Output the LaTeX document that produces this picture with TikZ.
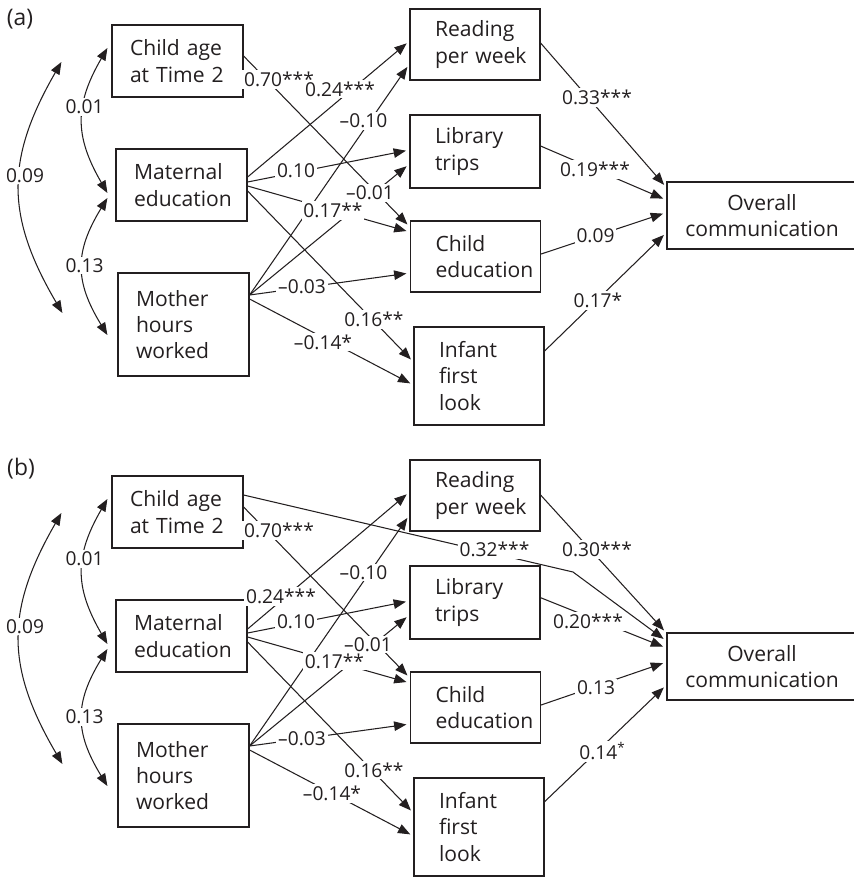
\documentclass[tikz,border=0pt]{standalone}
\usepackage{fontspec}
\setmainfont{Open Sans}
\usetikzlibrary{arrows.meta,calc,positioning}
\definecolor{ink}{RGB}{35,31,32}

\tikzset{
  var/.style={draw=ink,line width=0.7pt,text=ink,align=left,
    inner xsep=0.36cm,text width=1.9cm,minimum height=1.44cm,
    font=\fontsize{12}{15}\selectfont},
  outc/.style={var,inner xsep=0.5cm,text width=1.6cm},
  effect/.style={draw=ink,line width=0.6pt,
    -{Triangle[length=7pt,width=5.4pt]},shorten >=2pt},
  covar/.style={draw=ink,line width=0.6pt,
    {Triangle[length=7pt,width=5.4pt]}-{Triangle[length=7pt,width=5.4pt]}},
  coef/.style={fill=white,text=ink,inner sep=1pt,
    font=\fontsize{10.9}{13}\selectfont},
  panel/.style={text=ink,font=\fontsize{13}{15}\selectfont},
}

\begin{document}
\begin{tikzpicture}[x=0.02cm,y=-0.02cm]
  \useasboundingbox (0,0) rectangle (854,877);
  % (a) model without the direct path
  \begin{scope}
    \node[panel] (taga) at (20,19.5) {(a)};
    \node[var] (cage) at (177.5,61) {Child~age\\at~Time~2};
    \node[var] (medu) at (181.5,185) {Maternal\\education};
    \node[var,minimum height=2.06cm] (mhrs) at (183.5,324.5) {Mother\\hours\\worked};
    \node[outc,minimum height=1.42cm] (read) at (475,44.5) {Reading\\per~week};
    \node[outc,minimum height=1.46cm] (libr) at (475,151.5) {Library\\trips};
    \node[outc,minimum height=1.42cm] (cedu) at (475.5,256.5) {Child\\education};
    \node[outc,minimum height=1.96cm] (infl) at (479,376) {Infant\\first\\look};
    \node[var,align=center,text width=,inner xsep=2pt,minimum width=3.8cm,
      minimum height=1.34cm] (comm) at (762,215.5) {Overall\\communication};
    % covariances
    \draw[covar] ($(cage.west)+(-50,1)$) .. controls +(-56,97) and +(-57,-97) .. ($(mhrs.west)+(-55,-11.5)$);
    \draw[covar] ($(cage.west)+(-4,-13)$) .. controls +(-33,57) and +(-33,-57) .. ($(medu.west)+(-8,8)$);
    \draw[covar] ($(medu.west)+(-8,13)$) .. controls +(-33,54) and +(-33,-54) .. ($(mhrs.west)+(-10,10.5)$);
    % paths
    \draw[effect] ($(cage.east)+(0,-5)$) -- ($(cedu.west)+(0,-29.5)$);
    \draw[effect] ($(medu.east)+(0,-8)$) -- ($(read.west)+(0,-3.5)$);
    \draw[effect] ($(medu.east)+(0,-3)$) -- ($(libr.west)+(0,-1.5)$);
    \draw[effect] ($(medu.east)+(0,1)$) -- ($(cedu.west)+(0,-24.5)$);
    \draw[effect] ($(medu.east)+(0,6)$) -- ($(infl.west)+(0,-14)$);
    \draw[effect] ($(mhrs.east)+(0,-29.5)$) -- ($(read.west)+(0,19.5)$);
    \draw[effect] ($(mhrs.east)+(0,-29.5)$) -- ($(libr.west)+(0,12.5)$);
    \draw[effect] ($(mhrs.east)+(0,-29.5)$) -- ($(cedu.west)+(0,16.5)$);
    \draw[effect] ($(mhrs.east)+(0,-25.5)$) -- ($(infl.west)+(0,9)$);
    \draw[effect] ($(read.east)+(0,-1.5)$) -- ($(comm.west)+(0,-28)$);
    \draw[effect] ($(libr.east)+(0,-5.5)$) -- ($(comm.west)+(0,-15.5)$);
    \draw[effect] ($(cedu.east)+(0,-2.5)$) -- ($(comm.west)+(0,-3)$);
    \draw[effect] ($(infl.east)+(0,-25)$) -- ($(comm.west)+(0,17)$);
    % coefficients
    \node[coef] (k09) at (25,175.5) {0.09};
    \node[coef] (k01) at (84.5,107) {0.01};
    \node[coef] (k13) at (84.5,265.5) {0.13};
    \node[coef] (kca) at (279,79.5) {0.70***};
    \node[coef] (kmr) at (340,89) {0.24***};
    \node[coef] (khr) at (363.5,121) {--0.10};
    \node[coef] (kml) at (296,170.5) {0.10};
    \node[coef] (khl) at (370,193) {--0.01};
    \node[coef] (kmc) at (333,210.5) {0.17**};
    \node[coef] (khc) at (302,286.5) {--0.03};
    \node[coef] (kmi) at (374,319.5) {0.16**};
    \node[coef] (khi) at (323,342) {--0.14*};
    \node[coef] (kro) at (597,97.5) {0.33***};
    \node[coef] (klo) at (595,169.5) {0.19***};
    \node[coef] (kco) at (595.5,235.5) {0.09};
    \node[coef] (kio) at (598,300.5) {0.17*};
  \end{scope}
  % (b) model with child age -> communication
  \begin{scope}[shift={(0,451)}]
    \node[panel] (tagb) at (21,17.5) {(b)};
    \node[var] (cageb) at (177.5,61) {Child~age\\at~Time~2};
    \node[var] (medub) at (181.5,185) {Maternal\\education};
    \node[var,minimum height=2.06cm] (mhrsb) at (183.5,324.5) {Mother\\hours\\worked};
    \node[outc,minimum height=1.42cm] (readb) at (475,44.5) {Reading\\per~week};
    \node[outc,minimum height=1.46cm] (librb) at (475,151.5) {Library\\trips};
    \node[outc,minimum height=1.42cm] (cedub) at (475.5,256.5) {Child\\education};
    \node[outc,minimum height=1.96cm] (inflb) at (479,376) {Infant\\first\\look};
    \node[var,align=center,text width=,inner xsep=2pt,minimum width=3.8cm,
      minimum height=1.34cm] (commb) at (762,215.5) {Overall\\communication};
    % covariances
    \draw[covar] ($(cageb.west)+(-50,1)$) .. controls +(-56,97) and +(-57,-97) .. ($(mhrsb.west)+(-55,-11.5)$);
    \draw[covar] ($(cageb.west)+(-4,-13)$) .. controls +(-33,57) and +(-33,-57) .. ($(medub.west)+(-8,8)$);
    \draw[covar] ($(medub.west)+(-8,13)$) .. controls +(-33,54) and +(-33,-54) .. ($(mhrsb.west)+(-10,10.5)$);
    % paths
    \coordinate (kinkb) at (573,121);
    \draw[effect] ($(cageb.east)+(0,-17)$) -- (kinkb) -- ($(commb.west)+(0,-25.5)$);
    \draw[effect] ($(cageb.east)+(0,-5)$) -- ($(cedub.west)+(0,-29.5)$);
    \draw[effect] ($(medub.east)+(0,-7)$) -- ($(readb.west)+(0,-3.5)$);
    \draw[effect] ($(medub.east)+(0,-3)$) -- ($(librb.west)+(0,-1.5)$);
    \draw[effect] ($(medub.east)+(0,1)$) -- ($(cedub.west)+(0,-24.5)$);
    \draw[effect] ($(medub.east)+(0,6)$) -- ($(inflb.west)+(0,-14)$);
    \draw[effect] ($(mhrsb.east)+(0,-29.5)$) -- ($(readb.west)+(0,19.5)$);
    \draw[effect] ($(mhrsb.east)+(0,-29.5)$) -- ($(librb.west)+(0,12.5)$);
    \draw[effect] ($(mhrsb.east)+(0,-29.5)$) -- ($(cedub.west)+(0,16.5)$);
    \draw[effect] ($(mhrsb.east)+(0,-25.5)$) -- ($(inflb.west)+(0,9)$);
    \draw[effect] ($(readb.east)+(0,-0.5)$) -- ($(commb.west)+(0,-33.5)$);
    \draw[effect] ($(librb.east)+(0,-4.8)$) -- ($(commb.west)+(0,-18.5)$);
    \draw[effect] ($(cedub.east)+(0,-2.5)$) -- ($(commb.west)+(0,-4.5)$);
    \draw[effect] ($(inflb.east)+(0,-25.3)$) -- ($(commb.west)+(0,18.5)$);
    % coefficients
    \node[coef] (k09b) at (25,175.5) {0.09};
    \node[coef] (k01b) at (84.5,108) {0.01};
    \node[coef] (k13b) at (84.5,266) {0.13};
    \node[coef] (kcab) at (279,79.5) {0.70***};
    \node[coef] (kcob) at (494.5,98.5) {0.32***};
    \node[coef] (kmrb) at (281,145.5) {0.24***};
    \node[coef] (khrb) at (363.5,121.5) {--0.10};
    \node[coef] (kmlb) at (296,170.5) {0.10};
    \node[coef] (khlb) at (368,193.5) {--0.01};
    \node[coef] (kmcb) at (334.5,210) {0.17**};
    \node[coef] (khcb) at (302,287.3) {--0.03};
    \node[coef] (kmib) at (374,319) {0.16**};
    \node[coef] (khib) at (332,342.5) {--0.14*};
    \node[coef] (krob) at (597,98.5) {0.30***};
    \node[coef] (klob) at (588,170.5) {0.20***};
    \node[coef] (kceb) at (596,236.5) {0.13};
    \node[coef] (kiob) at (602.5,300.5) {0.14\textsuperscript{*}};
  \end{scope}
\end{tikzpicture}
\end{document}
